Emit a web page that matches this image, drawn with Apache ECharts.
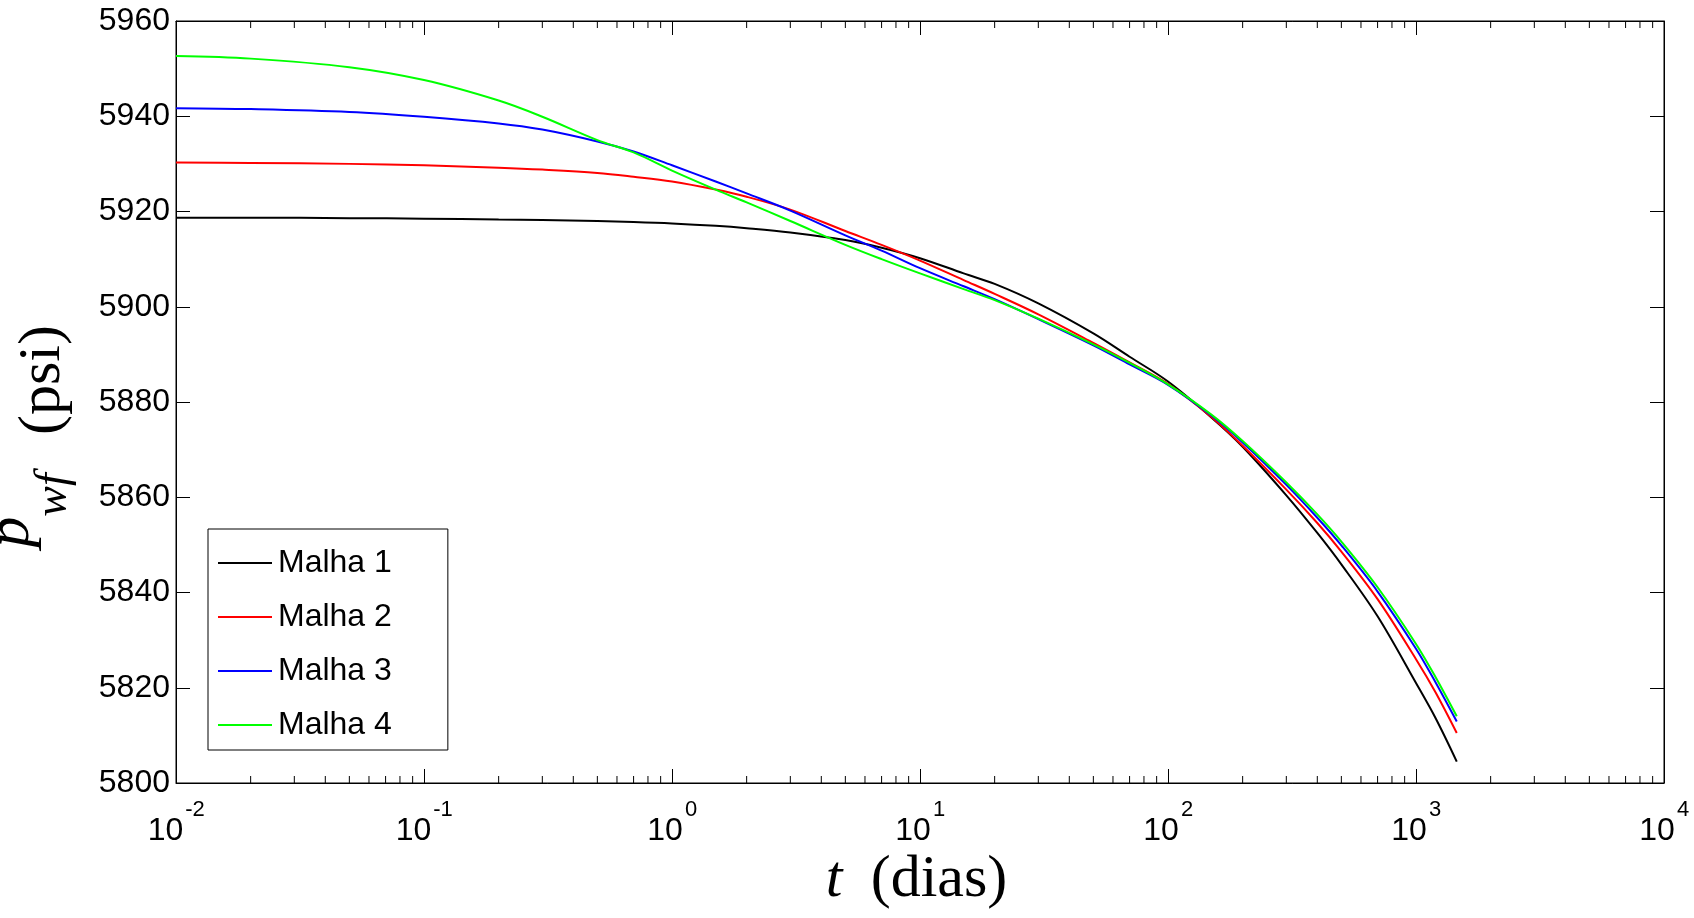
<!DOCTYPE html>
<html>
<head>
<meta charset="utf-8">
<script src="https://cdn.jsdelivr.net/npm/echarts@6/dist/echarts.min.js"></script>
<style>
html,body{margin:0;padding:0;background:#fff;}
#chart{width:1694px;height:918px;}
</style>
</head>
<body>
<div id="chart"></div>
<script>
// ---- data ----
const tDays = [0.01, 0.02, 0.05, 0.1, 0.2, 0.3, 0.5, 0.7, 1, 1.5, 2, 3, 5, 7, 10, 15, 20, 30, 50, 70, 100, 150, 200, 300, 400, 500, 700, 1000, 1200, 1460];
const malha1 = [5918.7, 5918.7, 5918.6, 5918.5, 5918.3, 5918.2, 5918.0, 5917.8, 5917.5, 5917.0, 5916.5, 5915.6, 5914.0, 5912.4, 5910.2, 5907.0, 5904.8, 5900.7, 5894.4, 5889.5, 5884.3, 5876.7, 5870.6, 5860.4, 5852.5, 5845.9, 5835.0, 5821.0, 5813.6, 5804.5];
const malha2 = [5930.3, 5930.2, 5930.0, 5929.7, 5929.2, 5928.8, 5928.1, 5927.3, 5926.3, 5924.6, 5923.1, 5920.4, 5915.9, 5913.0, 5909.7, 5905.6, 5902.7, 5898.4, 5892.4, 5888.3, 5883.8, 5876.8, 5870.8, 5861.6, 5854.6, 5848.6, 5838.6, 5826.0, 5819.0, 5810.5];
const malha3 = [5941.7, 5941.5, 5940.9, 5939.9, 5938.5, 5937.2, 5934.7, 5932.6, 5929.7, 5926.3, 5923.8, 5920.2, 5915.0, 5911.8, 5908.1, 5904.3, 5901.6, 5897.4, 5891.9, 5887.9, 5883.6, 5877.1, 5871.5, 5862.6, 5855.7, 5849.9, 5840.2, 5828.2, 5821.1, 5812.9];
const malha4 = [5952.65, 5952.1, 5950.3, 5947.6, 5943.3, 5939.9, 5935.0, 5932.4, 5928.6, 5924.6, 5921.9, 5918.0, 5913.0, 5910.0, 5907.0, 5903.7, 5901.4, 5897.5, 5892.1, 5888.2, 5883.7, 5877.3, 5871.8, 5863.1, 5856.4, 5850.7, 5841.1, 5829.2, 5822.2, 5814.0];
const seriesNames = ['Malha 1', 'Malha 2', 'Malha 3', 'Malha 4'];
const seriesColors = ['#000000', '#ff0000', '#0000ff', '#00ff00'];
const seriesValues = [malha1, malha2, malha3, malha4];

// axes
const yMin = 5800, yMax = 5960, yStep = 20;
const xMin = 0.01, xMax = 10000;
const minorMultipliers = [2, 3, 4, 5, 6, 7, 8, 9];
const decadeExponents = [-2, -1, 0, 1, 2, 3];

const minorTicks = [];
decadeExponents.forEach(e => minorMultipliers.forEach(m => minorTicks.push([m * Math.pow(10, e), yMin])));

const chart = echarts.init(document.getElementById('chart'), null, {renderer: 'canvas'});

const lineSeries = seriesNames.map((name, k) => ({
  name: name,
  type: 'line',
  xAxisIndex: 0,
  yAxisIndex: 0,
  data: tDays.map((t, i) => [t, seriesValues[k][i]]),
  showSymbol: false,
  symbol: 'none',
  smooth: 0.35,
  color: seriesColors[k],
  lineStyle: {color: seriesColors[k], width: 2},
  z: 3 + k,
  animation: false
}));

const minorTickSeries = {
  type: 'custom',
  name: 'minorTicks',
  xAxisIndex: 0,
  yAxisIndex: 0,
  silent: true,
  animation: false,
  data: minorTicks,
  renderItem: function (params, api) {
    const x = api.value(0);
    const pb = api.coord([x, yMin]);
    const pt = api.coord([x, yMax]);
    return {
      type: 'group',
      children: [
        {type: 'line', shape: {x1: pb[0], y1: pb[1], x2: pb[0], y2: pb[1] - 7}, style: {stroke: '#000', lineWidth: 1}},
        {type: 'line', shape: {x1: pt[0], y1: pt[1], x2: pt[0], y2: pt[1] + 7}, style: {stroke: '#000', lineWidth: 1}}
      ]
    };
  },
  z: 10
};

const axisLineStyle = {show: true, lineStyle: {color: '#000', width: 1}};
const tickStyle = {show: true, inside: true, length: 14, lineStyle: {color: '#000', width: 1}};
const labelFont = 'Liberation Sans';

const option = {
  backgroundColor: '#ffffff',
  animation: false,
  grid: {left: 176, right: 30, top: 21, bottom: 135, containLabel: false, outerBoundsMode: 'none',
         show: true, borderColor: '#000', borderWidth: 1, backgroundColor: '#fff'},
  xAxis: [
    {
      type: 'log', logBase: 10, min: xMin, max: xMax, splitNumber: 6,
      position: 'bottom',
      axisLine: axisLineStyle,
      axisTick: tickStyle,
      splitLine: {show: false},
      minorTick: {show: false},
      axisLabel: {
        show: true, margin: 19, showMinLabel: true, showMaxLabel: true,
        formatter: function (v) {
          const s = String(Math.round(Math.log10(v)));
          const q = s.length > 1 ? 'q2' : 'q1';
          return '{sp| }{s|' + s + '}\n{b|10}{' + q + '| }';
        },
        rich: {
          sp: {width: 38, fontSize: 22, lineHeight: 16, fontFamily: labelFont},
          s: {fontSize: 22, lineHeight: 16, fontFamily: labelFont, color: '#000'},
          b: {fontSize: 32, lineHeight: 27, fontFamily: labelFont, color: '#000'},
          q1: {width: 14, fontSize: 32, lineHeight: 27, fontFamily: labelFont},
          q2: {width: 21, fontSize: 32, lineHeight: 27, fontFamily: labelFont}
        }
      }
    },
    {
      type: 'log', logBase: 10, min: xMin, max: xMax, splitNumber: 6,
      position: 'top',
      axisLine: axisLineStyle,
      axisTick: tickStyle,
      splitLine: {show: false},
      axisLabel: {show: false}
    }
  ],
  yAxis: [
    {
      type: 'value', min: yMin, max: yMax, interval: yStep,
      position: 'left',
      axisLine: axisLineStyle,
      axisTick: tickStyle,
      splitLine: {show: false},
      axisLabel: {show: true, margin: 6, fontSize: 32, fontFamily: labelFont, color: '#000',
                  formatter: function (v) { return String(v); }}
    },
    {
      type: 'value', min: yMin, max: yMax, interval: yStep,
      position: 'right',
      axisLine: axisLineStyle,
      axisTick: tickStyle,
      splitLine: {show: false},
      axisLabel: {show: false}
    }
  ],
  legend: {
    data: seriesNames,
    orient: 'vertical',
    left: 208, top: 529,
    padding: [18, 56, 9, 10],
    itemGap: 22,
    itemWidth: 54,
    itemHeight: 2,
    icon: 'rect',
    borderColor: '#000', borderWidth: 1, borderRadius: 0,
    backgroundColor: '#fff',
    textStyle: {fontSize: 32, fontFamily: labelFont, color: '#000', lineHeight: 32, padding: [0, 0, 0, 1]},
    selectedMode: false
  },
  graphic: [
    {type: 'text', x: 12, y: 532, rotation: Math.PI / 2, silent: true,
     style: {text: 'p', font: 'italic 62px "Liberation Serif"', fill: '#000', textAlign: 'center', textVerticalAlign: 'middle'}},
    {type: 'text', x: 54, y: 495, rotation: Math.PI / 2, silent: true,
     style: {text: 'wf', font: 'italic 46px "Liberation Serif"', fill: '#000', textAlign: 'center', textVerticalAlign: 'middle'}},
    {type: 'text', x: 43, y: 380, rotation: Math.PI / 2, silent: true,
     style: {text: '(psi)', font: '60px "Liberation Serif"', fill: '#000', textAlign: 'center', textVerticalAlign: 'middle'}},
    {type: 'text', x: 834, y: 880, silent: true,
     style: {text: 't', font: 'italic 60px "Liberation Serif"', fill: '#000', textAlign: 'center', textVerticalAlign: 'middle'}},
    {type: 'text', x: 939, y: 880, silent: true,
     style: {text: '(dias)', font: '60px "Liberation Serif"', fill: '#000', textAlign: 'center', textVerticalAlign: 'middle'}}
  ],
  series: lineSeries.concat([minorTickSeries])
};

chart.setOption(option);
</script>
</body>
</html>
